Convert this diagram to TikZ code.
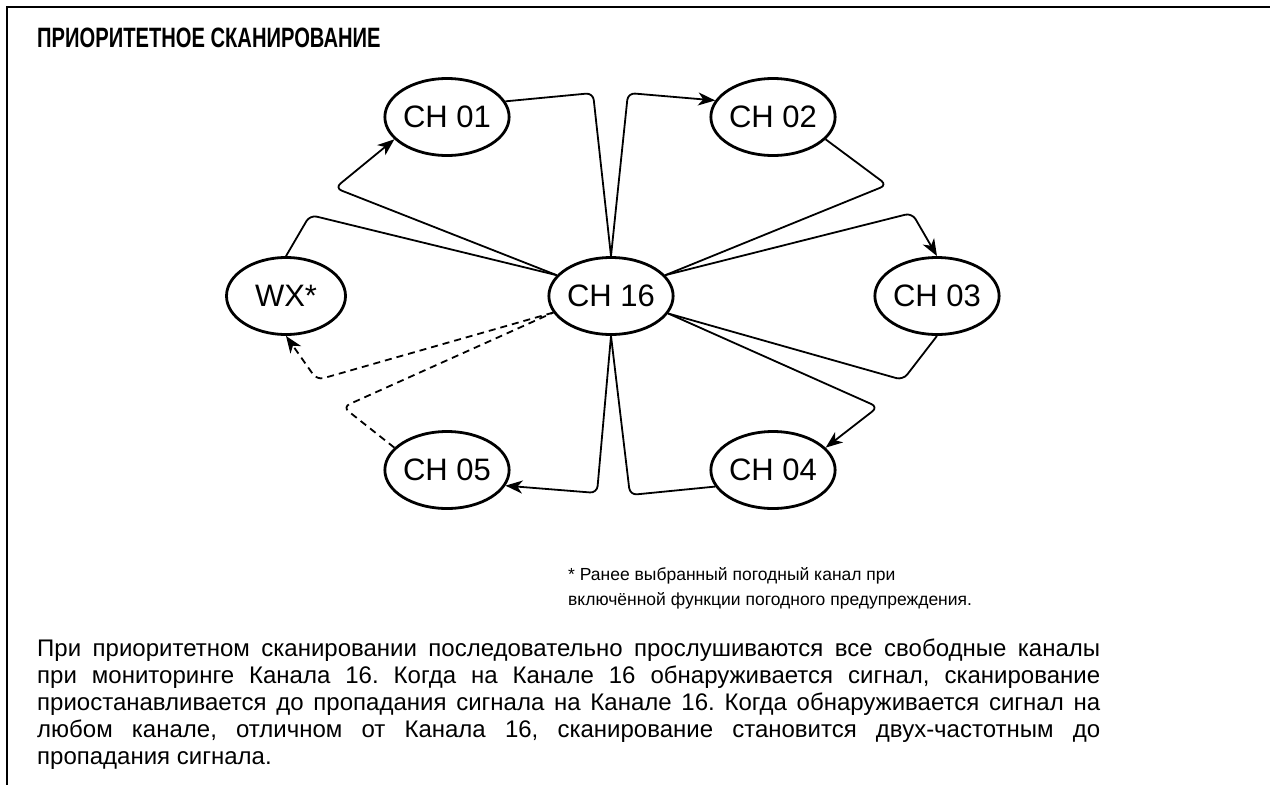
\documentclass[tikz,border=0pt]{standalone}
\usepackage{fontspec}
\setmainfont{Liberation Sans}
\newfontfamily\titlefont{Liberation Sans}[FakeStretch=0.72]
\usetikzlibrary{arrows.meta,shapes.geometric}
\begin{document}
\frenchspacing
\begin{tikzpicture}[x=1pt,y=-1pt,
  chan/.style={draw, ellipse, line width=2.8pt, minimum width=119pt, minimum height=77pt, inner sep=0pt, font=\fontsize{31}{33}\selectfont},
  conn/.style={line width=1.8pt, rounded corners=7pt},
  arr/.style={conn, -{Stealth[length=17pt,width=13pt,inset=5pt]}},
  dconn/.style={conn, dash pattern=on 7pt off 5pt},
  darr/.style={dconn, -{Stealth[length=17pt,width=13pt,inset=5pt]}},
  frame/.style={line width=2.4pt}
]
\useasboundingbox (0,0) rectangle (1270,785);
\fill[white] (0,0) rectangle (1270,785);
% frame
\coordinate (fl) at (7,785);
\coordinate (tl) at (7,7);
\coordinate (tr) at (1270,7);
\draw[frame] (fl) -- (tl) -- (tr);
% title
\node[anchor=west, font=\fontsize{28}{30}\titlefont\bfseries, inner sep=0pt] (title) at (37,38) {ПРИОРИТЕТНОЕ СКАНИРОВАНИЕ};
% channel nodes
\node[chan] (ch01) at (447,117) {CH 01};
\node[chan] (ch02) at (773,117) {CH 02};
\node[chan] (wx)   at (286,296) {WX*};
\node[chan] (ch16) at (611,296) {CH 16};
\node[chan] (ch03) at (937,296) {CH 03};
\node[chan] (ch05) at (447,470) {CH 05};
\node[chan] (ch04) at (773,470) {CH 04};
% corners
\coordinate (k1a) at (593,93);
\coordinate (k1b) at (628,93);
\coordinate (k2a) at (887,185);
\coordinate (k2b) at (912,213);
\coordinate (k3a) at (903,380);
\coordinate (k3b) at (878,407);
\coordinate (k4a) at (630,495);
\coordinate (k4b) at (597,493);
\coordinate (k5a) at (343,407);
\coordinate (k5b) at (317,380);
\coordinate (k6a) at (310,215);
\coordinate (k6b) at (335,188);
% connectors
\draw[conn] (ch01.15) -- (k1a) -- (ch16.north);
\draw[arr]  (ch16.north) -- (k1b) -- (ch02.164);
\draw[conn] (ch02.337) -- (k2a) -- (ch16.21);
\draw[arr]  (ch16.21) -- (k2b) -- (ch03.north);
\draw[conn] (ch03.south) -- (k3a) -- (ch16.-17);
\draw[arr]  (ch16.-17) -- (k3b) -- (ch04.23);
\draw[conn] (ch04.196) -- (k4a) -- (ch16.south);
\draw[arr]  (ch16.south) -- (k4b) -- (ch05.345);
\draw[dconn] (ch05.157) -- (k5a) -- (ch16.196);
\draw[darr] (ch16.196) -- (k5b) -- (wx.south);
\draw[conn] (wx.north) -- (k6a) -- (ch16.159);
\draw[arr]  (ch16.159) -- (k6b) -- (ch01.203);
% footnote
\node[anchor=north west, inner sep=0pt, align=left, font=\fontsize{17.5}{25}\selectfont] (note) at (568,567) {* Ранее выбранный погодный канал при\\включённой функции погодного предупреждения.};
% body
\node[anchor=north west, inner sep=0pt, text width=1063pt, align=justify, font=\fontsize{24}{27}\selectfont] (body) at (37,639) {При приоритетном сканировании последовательно прослушиваются все свободные каналы\linebreak при мониторинге Канала 16. Когда на Канале 16 обнаруживается сигнал, сканирование\linebreak приостанавливается до пропадания сигнала на Канале 16. Когда обнаруживается сигнал на\linebreak любом канале, отличном от Канала 16, сканирование становится двух-частотным до\linebreak пропадания сигнала.};
\end{tikzpicture}
\end{document}
